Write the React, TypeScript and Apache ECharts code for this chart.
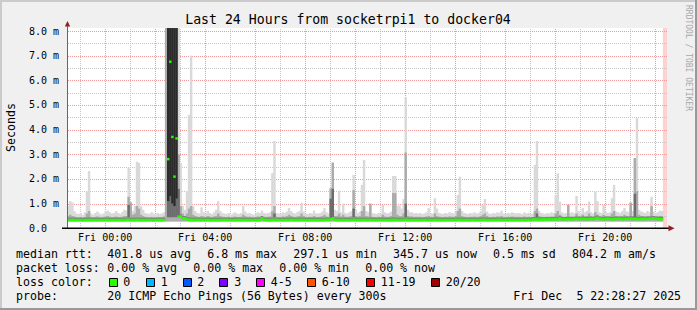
import React, { useEffect, useRef } from "react";
import * as echarts from "echarts";

// ---------- data ----------
// time axis: hours relative to Fri 00:00; the window is Thu 22:28:27 .. Fri 22:28:27
const startHour = -(1 + 31 / 60 + 33 / 3600);
const endHour = startHour + 24;
const stepHours = 5 / 60; // one rrd step = 300 s

// lightest smoke top (max ping per step), ms
const rttMax = [
  0.9, 1.1, 1.05, 0.7, 0.6, 0.58, 0.62, 0.55, 0.65, 1.5, 2.32, 0.6, 0.55, 0.62, 0.68, 0.6, 0.56, 0.6, 0.7, 0.72, 0.65, 0.6, 0.62, 0.7,
  0.62, 0.58, 0.66, 0.75, 0.72, 2.45, 1.05, 0.7, 0.9, 2.7, 2.65, 0.9, 0.75, 0.62, 0.6, 0.58, 0.65, 0.6, 0.56, 0.62, 0.58, 0.6, 0.65, 8.5,
  8.5, 8.5, 8.5, 8.5, 8.5, 8.5, 2.65, 0.9, 0.75, 1.5, 4.6, 7.0, 0.9, 0.7, 0.62, 0.6, 0.85, 0.65, 0.6, 0.7, 0.62, 0.58, 0.65, 0.75,
  1.1, 0.7, 0.62, 0.6, 0.58, 0.62, 0.55, 0.6, 0.65, 0.6, 0.58, 0.62, 0.9, 0.68, 0.6, 0.62, 0.58, 0.55, 0.6, 0.65, 0.62, 0.72, 0.62, 0.6,
  0.62, 0.65, 2.24, 3.54, 0.62, 0.6, 0.58, 0.65, 0.62, 0.68, 0.82, 0.7, 0.62, 0.6, 0.65, 0.7, 1.04, 0.68, 0.6, 0.58, 0.62, 0.6, 0.72, 0.6,
  0.6, 0.62, 0.68, 0.82, 0.65, 0.6, 1.62, 2.66, 0.75, 0.7, 1.53, 0.65, 1.0, 0.62, 0.6, 0.65, 0.7, 2.16, 0.75, 0.62, 0.68, 1.76, 2.77, 0.7,
  0.65, 1.0, 0.62, 0.6, 0.58, 0.62, 0.6, 0.95, 0.65, 0.6, 0.62, 0.68, 2.12, 2.12, 0.92, 0.92, 0.8, 1.19, 5.3, 0.75, 0.65, 0.65, 0.6, 0.62,
  0.6, 0.62, 0.58, 0.6, 0.65, 0.82, 0.62, 0.6, 1.22, 0.8, 0.62, 0.6, 0.58, 0.62, 0.6, 0.65, 0.62, 0.6, 0.68, 1.35, 2.09, 0.7, 0.62, 0.6,
  0.58, 0.62, 0.6, 0.65, 0.6, 0.62, 0.7, 0.95, 1.19, 0.68, 0.6, 0.58, 0.62, 0.6, 0.65, 0.62, 0.72, 0.6, 0.58, 0.62, 0.6, 0.65, 0.62, 0.6,
  0.62, 0.6, 0.58, 0.65, 0.6, 0.62, 0.58, 0.6, 2.57, 3.54, 0.7, 0.62, 0.6, 0.58, 0.62, 0.6, 0.65, 0.62, 1.35, 2.23, 1.08, 0.65, 0.6, 0.62,
  0.95, 0.62, 0.65, 0.6, 1.31, 0.7, 0.62, 0.82, 0.65, 0.7, 1.08, 0.65, 0.6, 1.49, 1.1, 0.65, 0.62, 0.95, 0.68, 0.62, 0.65, 1.22, 1.76, 0.68,
  0.65, 0.62, 0.7, 0.82, 0.68, 0.65, 1.04, 0.7, 2.85, 4.47, 0.75, 0.68, 0.65, 0.62, 0.7, 0.65, 1.28, 0.68, 0.62, 0.65, 0.72, 0.7,
];

// medium smoke top (upper quantile per step), ms
const rttUpper = [
  0.5, 0.55, 0.5, 0.48, 0.45, 0.44, 0.46, 0.44, 0.46, 0.6, 0.7, 0.46, 0.44, 0.46, 0.48, 0.45, 0.44, 0.46, 0.48, 0.5, 0.47, 0.45, 0.46, 0.48,
  0.46, 0.45, 0.47, 0.5, 0.5, 1.28, 1.05, 0.55, 0.6, 0.9, 0.8, 0.55, 0.5, 0.46, 0.45, 0.44, 0.46, 0.45, 0.44, 0.46, 0.45, 0.46, 0.48, 8.5,
  8.5, 8.5, 8.5, 8.5, 8.5, 3.0, 0.9, 0.6, 0.5, 0.6, 0.8, 0.9, 0.55, 0.5, 0.47, 0.46, 0.5, 0.48, 0.46, 0.5, 0.47, 0.45, 0.48, 0.5,
  0.6, 0.5, 0.47, 0.46, 0.45, 0.47, 0.44, 0.46, 0.48, 0.46, 0.45, 0.47, 0.55, 0.5, 0.46, 0.47, 0.45, 0.44, 0.46, 0.48, 0.47, 0.5, 0.47, 0.46,
  0.47, 0.48, 0.7, 0.9, 0.47, 0.46, 0.45, 0.48, 0.47, 0.5, 0.55, 0.5, 0.47, 0.46, 0.48, 0.5, 0.6, 0.5, 0.46, 0.45, 0.47, 0.46, 0.5, 0.46,
  0.46, 0.47, 0.5, 0.55, 0.48, 0.46, 1.62, 2.66, 0.5, 0.5, 0.6, 0.48, 0.55, 0.47, 0.46, 0.48, 0.5, 1.55, 0.5, 0.47, 0.5, 0.7, 0.9, 0.5,
  0.48, 1.0, 0.47, 0.46, 0.45, 0.47, 0.46, 0.55, 0.48, 0.46, 0.47, 0.5, 1.43, 1.43, 0.55, 0.5, 0.5, 0.6, 3.07, 0.5, 0.48, 0.48, 0.46, 0.47,
  0.46, 0.47, 0.45, 0.46, 0.48, 0.5, 0.47, 0.46, 0.6, 0.5, 0.47, 0.46, 0.45, 0.47, 0.46, 0.48, 0.47, 0.46, 0.5, 0.7, 0.8, 0.5, 0.47, 0.46,
  0.45, 0.47, 0.46, 0.48, 0.46, 0.47, 0.5, 0.55, 0.6, 0.5, 0.46, 0.45, 0.47, 0.46, 0.48, 0.47, 0.5, 0.46, 0.45, 0.47, 0.46, 0.48, 0.47, 0.46,
  0.47, 0.46, 0.45, 0.48, 0.46, 0.47, 0.45, 0.46, 0.7, 0.8, 0.5, 0.47, 0.46, 0.45, 0.47, 0.46, 0.48, 0.47, 0.6, 0.7, 0.55, 0.48, 0.46, 0.47,
  0.95, 0.47, 0.48, 0.46, 0.6, 0.5, 0.47, 0.55, 0.48, 0.5, 0.6, 0.48, 0.46, 0.65, 0.55, 0.48, 0.47, 0.55, 0.5, 0.47, 0.48, 0.6, 0.7, 0.5,
  0.48, 0.47, 0.5, 0.55, 0.5, 0.48, 1.04, 0.5, 2.85, 1.5, 0.55, 0.5, 0.48, 0.47, 0.5, 0.48, 0.9, 0.5, 0.47, 0.48, 0.5, 0.5,
];

// median rtt per step, ms (null = above the chart)
const rttMedian = [
  0.33, 0.33, 0.34, 0.33, 0.33, 0.33, 0.33, 0.32, 0.33, 0.33, 0.34, 0.33, 0.33, 0.33, 0.33, 0.33, 0.33, 0.33, 0.34, 0.33, 0.33, 0.33, 0.33, 0.33,
  0.33, 0.33, 0.33, 0.33, 0.34, 0.34, 0.33, 0.33, 0.33, 0.34, 0.33, 0.33, 0.33, 0.33, 0.33, 0.33, 0.33, 0.32, 0.33, 0.33, 0.33, 0.33, 0.33, null,
  2.8, 6.75, 3.7, 2.09, 3.64, 0.47, 0.47, 0.4, 0.4, 0.36, 0.34, 0.34, 0.33, 0.33, 0.34, 0.33, 0.33, 0.33, 0.33, 0.34, 0.33, 0.33, 0.33, 0.33,
  0.33, 0.33, 0.33, 0.34, 0.33, 0.33, 0.33, 0.33, 0.33, 0.33, 0.34, 0.33, 0.33, 0.33, 0.33, 0.33, 0.33, 0.33, 0.33, 0.33, 0.34, 0.4, 0.34, 0.33,
  0.33, 0.33, 0.34, 0.34, 0.33, 0.33, 0.33, 0.33, 0.33, 0.33, 0.33, 0.34, 0.33, 0.33, 0.33, 0.33, 0.34, 0.33, 0.33, 0.33, 0.33, 0.33, 0.33, 0.33,
  0.33, 0.33, 0.33, 0.33, 0.34, 0.34, 0.36, 0.4, 0.34, 0.33, 0.33, 0.33, 0.33, 0.33, 0.33, 0.33, 0.33, 0.34, 0.33, 0.33, 0.33, 0.33, 0.34, 0.33,
  0.33, 0.34, 0.33, 0.33, 0.33, 0.33, 0.34, 0.33, 0.33, 0.33, 0.33, 0.33, 0.34, 0.34, 0.33, 0.33, 0.33, 0.33, 0.35, 0.33, 0.33, 0.33, 0.33, 0.33,
  0.33, 0.33, 0.33, 0.34, 0.33, 0.33, 0.33, 0.33, 0.34, 0.33, 0.33, 0.33, 0.33, 0.33, 0.33, 0.33, 0.33, 0.33, 0.33, 0.34, 0.34, 0.33, 0.33, 0.33,
  0.33, 0.33, 0.34, 0.33, 0.33, 0.33, 0.33, 0.34, 0.34, 0.33, 0.33, 0.33, 0.33, 0.33, 0.34, 0.33, 0.33, 0.33, 0.33, 0.33, 0.34, 0.33, 0.33, 0.33,
  0.33, 0.33, 0.34, 0.33, 0.33, 0.34, 0.33, 0.35, 0.36, 0.35, 0.34, 0.35, 0.35, 0.36, 0.35, 0.36, 0.35, 0.36, 0.37, 0.36, 0.4, 0.36, 0.35, 0.36,
  0.37, 0.36, 0.36, 0.37, 0.38, 0.36, 0.37, 0.38, 0.37, 0.36, 0.37, 0.38, 0.37, 0.39, 0.42, 0.38, 0.37, 0.36, 0.37, 0.38, 0.37, 0.36, 0.37, 0.38,
  0.37, 0.38, 0.36, 0.37, 0.38, 0.37, 0.39, 0.37, 0.38, 0.37, 0.36, 0.37, 0.38, 0.37, 0.37, 0.38, 0.39, 0.4, 0.38, 0.37, 0.37, 0.36,
];

// lowest ping seen (bottom of the smoke), ms
const rttFloor = 0.26;

// darker smoke spans: [step, low ms, high ms]
const darkSpans = [
  [29, 0.45, 0.95], [48, 0.45, 1.1], [49, 0.45, 1.3], [50, 0.45, 1.0], [51, 0.45, 0.9],
  [52, 0.45, 1.2], [53, 0.5, 1.6], [99, 0.45, 0.6], [126, 0.45, 1.2], [127, 0.45, 1.6], [137, 0.45, 0.8],
  [162, 0.45, 1.0], [225, 0.45, 0.6], [272, 0.45, 1.4],
];
// darkest smoke spans (most pings): [step, low ms, high ms]
const coreSpans = [
  [48, 1.1, 8.5], [49, 1.3, 8.5], [50, 1.0, 8.5], [51, 0.9, 8.5], [52, 1.2, 8.5],
];

// no data yet at the right end
const pendingSpan = [startHour + rttMax.length * stepHours, endHour];

const xLabelHours = [0, 4, 8, 12, 16, 20];
const majorGridHours = [0, 2, 4, 6, 8, 10, 12, 14, 16, 18, 20, 22];
const minorGridHours = [-1, 1, 3, 5, 7, 9, 11, 13, 15, 17, 19, 21];
const majorGridMs = [1, 2, 3, 4, 5, 6, 7, 8];
const minorGridMs = [0.5, 1.5, 2.5, 3.5, 4.5, 5.5, 6.5, 7.5];

const titleText = "Last 24 Hours from socketrpi1 to docker04";
const yAxisName = "Seconds";
const rrdCredit = "RRDTOOL / TOBI OETIKER";

const rttStats = ["401.8 us avg", "6.8 ms max", "297.1 us min", "345.7 us now", "0.5 ms sd", "804.2 m am/s"];
const lossStats = ["0.00 % avg", "0.00 % max", "0.00 % min", "0.00 % now"];
const lossLabels = ["0", "1", "2", "3", "4-5", "6-10", "11-19", "20/20"];
const lossColors = ["#26ff00", "#00b8ff", "#0059ff", "#7e00ff", "#ff00ff", "#ff5500", "#ff0000", "#a10000"];
const probeText = "20 ICMP Echo Pings (56 Bytes) every 300s";
const dateParts = ["Fri Dec", "5 22:28:27 2025"];

// ---------- layout / style ----------
const MONO = "'DejaVu Sans Mono', monospace";
const PLOT_LEFT = 67;
const PLOT_TOP = 31;
const PLOT_W = 600;
const PLOT_H = 197.3;
const PLOT_BOTTOM = PLOT_TOP + PLOT_H;
const Y_MAX = 8;
const Y_CEIL = 8.12; // value at the top edge of the canvas
const RED_GRID = "#ee9a9a";
const GREY_GRID = "#c6c6c6";

const rttStatX = [107.3, 207.2, 293.2, 393.1, 493.0, 572.1];
const lossStatX = [107.3, 193.3, 279.3, 365.2];
const lossBoxX = [108.7, 145.7, 182.7, 219.3, 256, 307.3, 365.7, 431];
const lossLabelX = [123.3, 160.7, 197.3, 234.3, 270.7, 321.7, 380.7, 445.7];
const ROW_Y = [254.3, 268.3, 282.3, 296.3];

function stepRows(values: (number | null)[], low: (v: number) => number, high: (v: number) => number) {
  const rows: number[][] = [];
  values.forEach((v, k) => {
    if (v == null) return;
    const t0 = startHour + k * stepHours;
    rows.push([t0, t0 + stepHours, low(v), high(v)]);
  });
  return rows;
}

function spanRows(spans: number[][]) {
  return spans.map(([k, lo, hi]) => {
    const t0 = startHour + k * stepHours;
    return [t0, t0 + stepHours, lo, hi];
  });
}

function rectSeries(name: string, rows: number[][], color: string, z: number, overlap = 0.35) {
  return {
    type: "custom",
    name,
    z,
    silent: true,
    clip: false,
    encode: { x: [0, 1], y: [2, 3] },
    data: rows,
    renderItem: (_p: any, api: any) => {
      const a = api.coord([api.value(0), Math.min(api.value(3), Y_CEIL)]);
      const b = api.coord([api.value(1), Math.min(api.value(2), Y_CEIL)]);
      return {
        type: "rect",
        shape: { x: a[0], y: a[1], width: b[0] - a[0] + overlap, height: b[1] - a[1] },
        style: { fill: color },
      };
    },
  };
}

function vGridSeries(name: string, hours: number[], color: string) {
  return {
    type: "custom",
    name,
    z: 1,
    silent: true,
    encode: { x: 0, y: 1 },
    data: hours.map((h) => [h, 0]),
    renderItem: (_p: any, api: any) => {
      const a = api.coord([api.value(0), 0]);
      const b = api.coord([api.value(0), Y_CEIL]);
      const x = Math.round(a[0]) + 0.5;
      return {
        type: "line",
        shape: { x1: x, y1: Math.round(a[1]), x2: x, y2: b[1] },
        style: { stroke: color, lineWidth: 1, lineDash: [1, 1] },
      };
    },
  };
}

function txt(text: string, x: number, y: number, extra: any = {}, style: any = {}) {
  return {
    type: "text",
    x,
    y,
    z: 20,
    silent: true,
    ...extra,
    style: {
      text,
      fontFamily: MONO,
      fontSize: 11.6,
      fill: "#000",
      align: "left",
      verticalAlign: "middle",
      ...style,
    },
  };
}

function buildGraphics(chart: any) {
  const ceilY = PLOT_BOTTOM - (PLOT_H * Y_CEIL) / Y_MAX;
  const x0 = chart.convertToPixel({ xAxisIndex: 0 }, startHour);
  const x1 = chart.convertToPixel({ xAxisIndex: 0 }, endHour);
  const hLine = (v: number, color: string) => {
    const y = Math.round(chart.convertToPixel({ yAxisIndex: 0 }, v)) + 0.5;
    return {
      type: "line",
      z: 2,
      silent: true,
      shape: { x1: Math.round(x0) + 1, y1: y, x2: Math.round(x1) + 1, y2: y },
      style: { stroke: color, lineWidth: 1, lineDash: [1, 1] },
    };
  };
  return [
    // frame shading
    { type: "rect", z: -20, shape: { x: 0, y: 0, width: 697, height: 2 }, style: { fill: "#cbcbcb" } },
    { type: "rect", z: -20, shape: { x: 0, y: 0, width: 2, height: 310 }, style: { fill: "#cbcbcb" } },
    { type: "rect", z: -20, shape: { x: 0, y: 308, width: 697, height: 2 }, style: { fill: "#999999" } },
    { type: "rect", z: -20, shape: { x: 695, y: 0, width: 2, height: 310 }, style: { fill: "#999999" } },
    // white canvas strip above the 8.0 line
    {
      type: "rect",
      z: -10,
      silent: true,
      shape: { x: PLOT_LEFT, y: ceilY, width: PLOT_W, height: PLOT_TOP - ceilY },
      style: { fill: "#ffffff" },
    },
    // horizontal grid
    ...minorGridMs.map((v) => hLine(v, GREY_GRID)),
    ...majorGridMs.map((v) => hLine(v, RED_GRID)),
    // y axis line + arrow
    {
      type: "line",
      z: 15,
      silent: true,
      shape: { x1: PLOT_LEFT + 0.5, y1: PLOT_BOTTOM, x2: PLOT_LEFT + 0.5, y2: 25 },
      style: { stroke: "#666666", lineWidth: 1 },
    },
    {
      type: "polygon",
      z: 16,
      silent: true,
      shape: { points: [[64.8, 26.5], [70.2, 26.5], [67.5, 21]] },
      style: { fill: "#961e1e" },
    },
    // x axis line + arrow
    {
      type: "line",
      z: 15,
      silent: true,
      shape: { x1: 62, y1: PLOT_BOTTOM, x2: 669, y2: PLOT_BOTTOM },
      style: { stroke: "#000000", lineWidth: 1.5 },
    },
    {
      type: "polygon",
      z: 16,
      silent: true,
      shape: { points: [[668.5, PLOT_BOTTOM - 3], [668.5, PLOT_BOTTOM + 3], [674.5, PLOT_BOTTOM]] },
      style: { fill: "#961e1e" },
    },
    txt(titleText, 348, 19.5, {}, { fontSize: 13.2, align: "center" }),
    txt(yAxisName, 11, 127.5, { rotation: Math.PI / 2 }, { align: "center" }),
    txt(rrdCredit, 688.5, 5, { rotation: -Math.PI / 2 }, { fontSize: 8, fill: "#a8a8a8" }),
    // legend rows
    txt("median rtt:", 16, ROW_Y[0]),
    ...rttStats.map((s, i) => txt(s, rttStatX[i], ROW_Y[0])),
    txt("packet loss:", 16, ROW_Y[1]),
    ...lossStats.map((s, i) => txt(s, lossStatX[i], ROW_Y[1])),
    txt("loss color:", 16, ROW_Y[2]),
    ...lossColors.map((c, i) => ({
      type: "rect",
      z: 20,
      silent: true,
      shape: { x: Math.round(lossBoxX[i]) + 0.5, y: 278.5, width: 8, height: 8 },
      style: { fill: c, stroke: "#000", lineWidth: 1 },
    })),
    ...lossLabels.map((s, i) => txt(s, lossLabelX[i], ROW_Y[2])),
    txt("probe:", 16, ROW_Y[3]),
    txt(probeText, 107.3, ROW_Y[3]),
    txt(dateParts[0], 513.3, ROW_Y[3]),
    txt(dateParts[1], 576.4, ROW_Y[3]),
  ];
}

function buildOption() {
  const pad = (n: number) => (n < 10 ? "0" + n : "" + n);
  return {
    animation: false,
    backgroundColor: "#f0f0f0",
    grid: {
      left: PLOT_LEFT,
      top: PLOT_TOP,
      width: PLOT_W,
      height: PLOT_H,
      containLabel: false,
      show: true,
      backgroundColor: "#ffffff",
      borderWidth: 0,
    },
    xAxis: {
      type: "value",
      min: startHour,
      max: endHour,
      axisLine: { show: false },
      axisTick: { show: false },
      splitLine: { show: false },
      axisLabel: {
        customValues: xLabelHours,
        formatter: (v: number) => "Fri " + pad(Math.round(v)) + ":00",
        fontFamily: MONO,
        fontSize: 10,
        color: "#000",
        margin: 4,
      },
    },
    yAxis: {
      type: "value",
      min: 0,
      max: Y_MAX,
      interval: 1,
      axisLine: { show: false },
      axisTick: { show: false },
      splitLine: { show: false },
      axisLabel: {
        formatter: (v: number) => (v === 0 ? "0.0" : v.toFixed(1) + " m"),
        fontFamily: MONO,
        fontSize: 10,
        color: "#000",
        align: "left",
        margin: 38,
      },
    },
    series: [
      vGridSeries("minor v grid", minorGridHours, GREY_GRID),
      vGridSeries("major v grid", majorGridHours, RED_GRID),
      rectSeries("pending", [[pendingSpan[0], pendingSpan[1], 0, Y_CEIL]], "#ffd2d2", 2, 0),
      rectSeries("smoke max", stepRows(rttMax, () => rttFloor, (v) => v), "#d9d9d9", 3),
      rectSeries("smoke upper", stepRows(rttUpper, () => rttFloor + 0.02, (v) => v), "#ababab", 4),
      rectSeries("median shade", stepRows(rttMedian, (v) => v, (v) => v + 0.1), "#808080", 5),
      rectSeries("smoke dark", spanRows(darkSpans), "#6c6c6c", 6),
      rectSeries("smoke core", spanRows(coreSpans), "#2b2b2b", 7),
      rectSeries("median", stepRows(rttMedian, (v) => v - 0.045, (v) => v + 0.055), "#26ff00", 8),
    ],
  };
}

export default function App() {
  const ref = useRef<HTMLDivElement>(null);
  useEffect(() => {
    const chart = echarts.init(ref.current!, null, { renderer: "svg" });
    chart.setOption(buildOption() as any);
    chart.setOption({ graphic: buildGraphics(chart) } as any);
    return () => chart.dispose();
  }, []);
  return (
    <div
      ref={ref}
      style={{ position: "fixed", left: 0, top: 0, width: 697, height: 310 }}
    />
  );
}
